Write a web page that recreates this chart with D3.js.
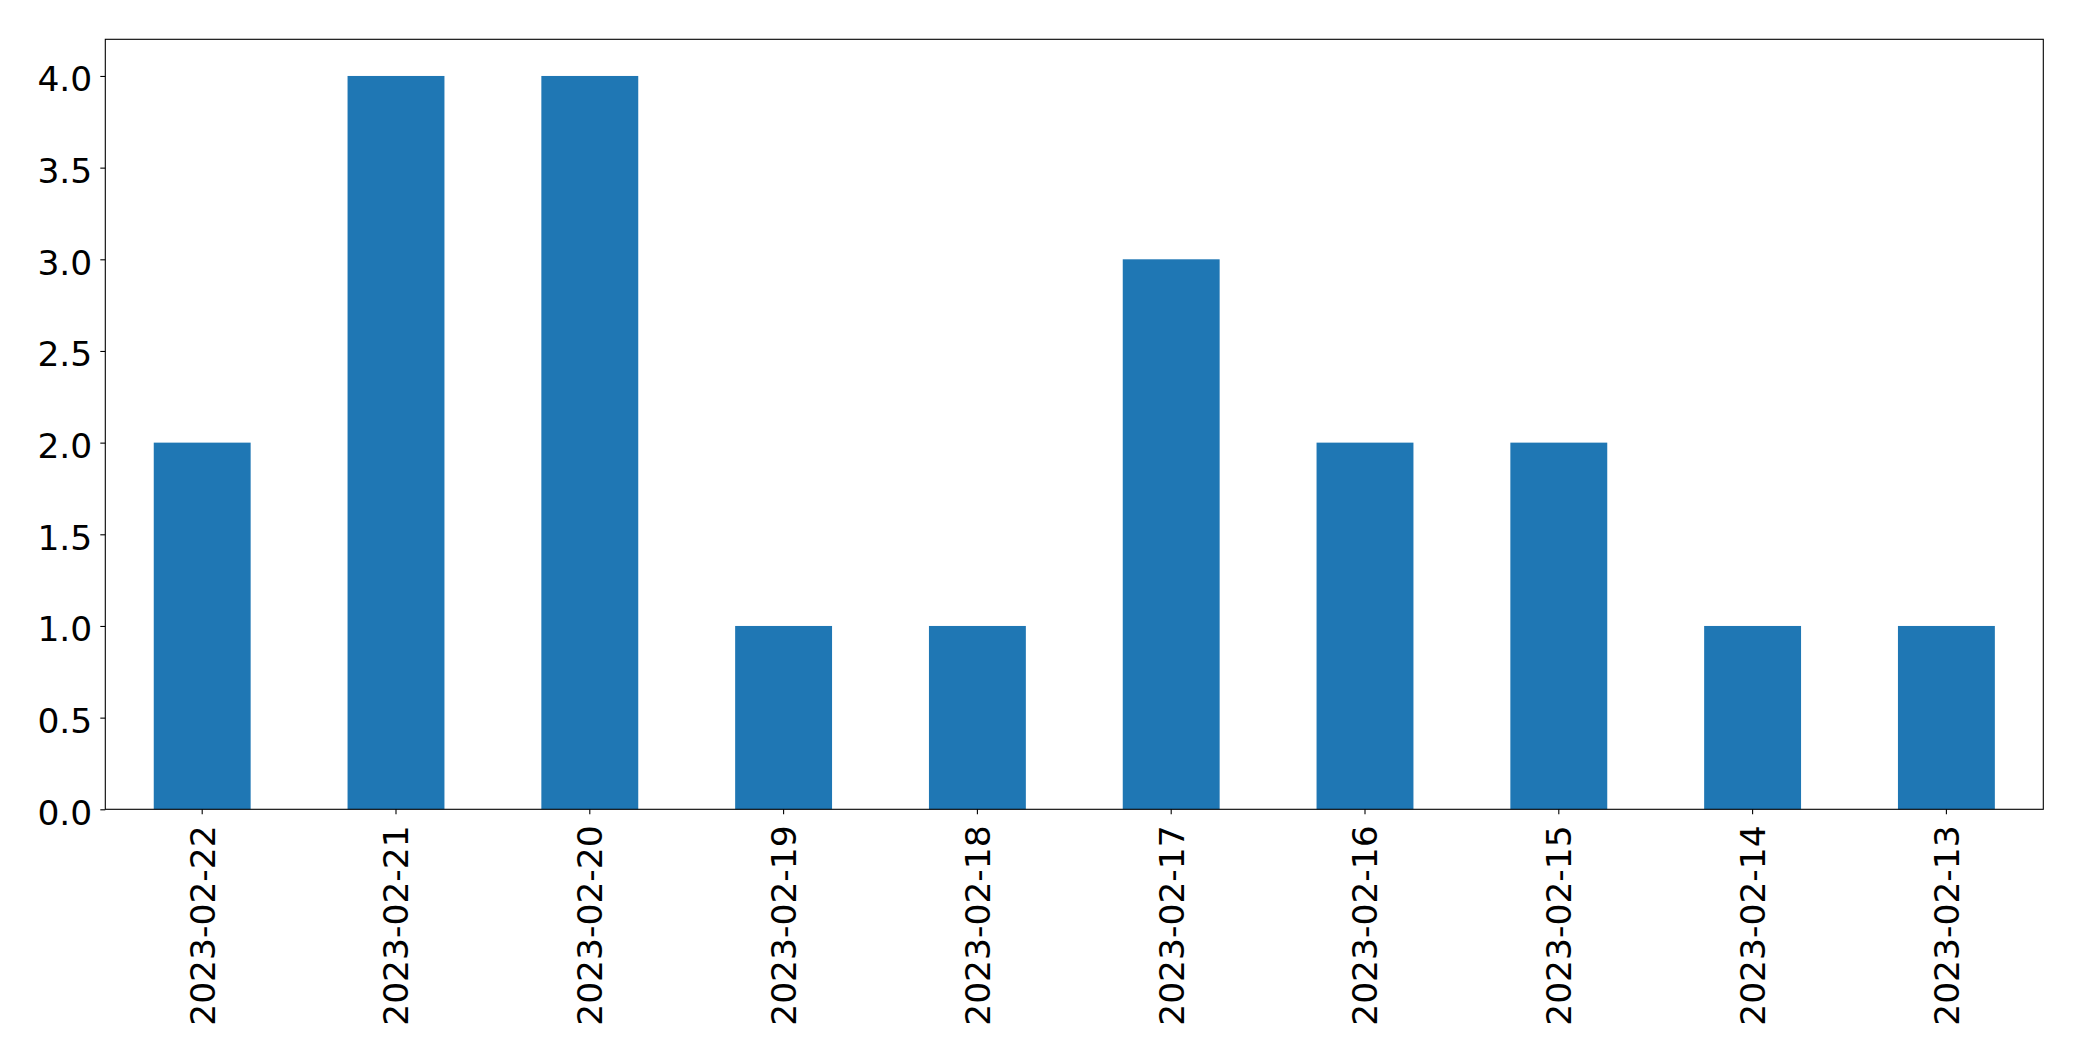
<!DOCTYPE html>
<html><head><meta charset="utf-8">
<script src="https://cdn.jsdelivr.net/npm/d3@7"></script>
<style>body{margin:0;background:#fff}svg{display:block}</style>
</head><body>
<script>
const categories = ["2023-02-22","2023-02-21","2023-02-20","2023-02-19","2023-02-18","2023-02-17","2023-02-16","2023-02-15","2023-02-14","2023-02-13"];
const values = [2,4,4,1,1,3,2,2,1,1];
const yTicks = [0,0.5,1,1.5,2,2.5,3,3.5,4];

const W = 2082, H = 1061;
const L = 105.3, R = 2043.3, T = 39.3, B = 809.3;
const fs = 34.5;
const svg = d3.select("body").append("svg").attr("width", W).attr("height", H);
const x = d3.scaleBand().domain(categories).range([L, R]).paddingInner(0.5).paddingOuter(0.25);
const y = d3.scaleLinear().domain([0, 4.2]).range([B, T]);

svg.append("g").selectAll("rect").data(values).join("rect")
  .attr("x", (d,i) => x(categories[i]))
  .attr("width", x.bandwidth())
  .attr("y", d => y(d))
  .attr("height", d => y(0) - y(d))
  .attr("fill", "#1f77b4");

const font = "DejaVu Sans";
const gy = svg.append("g").attr("transform", `translate(${L},0)`)
  .call(d3.axisLeft(y).tickValues(yTicks).tickFormat(d3.format(".1f")).tickSize(5).tickPadding(8));
gy.select(".domain").remove();
gy.selectAll("line").attr("stroke", "#000").attr("stroke-width", 1.1);
gy.selectAll("text").attr("font-family", font).attr("font-size", fs).attr("fill", "#000").attr("dy", "0.43em");

const gx = svg.append("g").attr("transform", `translate(0,${B})`)
  .call(d3.axisBottom(x).tickSize(5).tickPadding(0));
gx.select(".domain").remove();
gx.selectAll("line").attr("stroke", "#000").attr("stroke-width", 1.1);
gx.selectAll("text").attr("font-family", font).attr("font-size", fs).attr("fill", "#000")
  .attr("transform", "rotate(-90)")
  .attr("text-anchor", "end")
  .attr("x", -16).attr("y", 0).attr("dy", "0.36em");

svg.append("rect").attr("x", L).attr("y", T).attr("width", R - L).attr("height", B - T)
  .attr("fill", "none").attr("stroke", "#000").attr("stroke-width", 1.1);
</script>
</body></html>
